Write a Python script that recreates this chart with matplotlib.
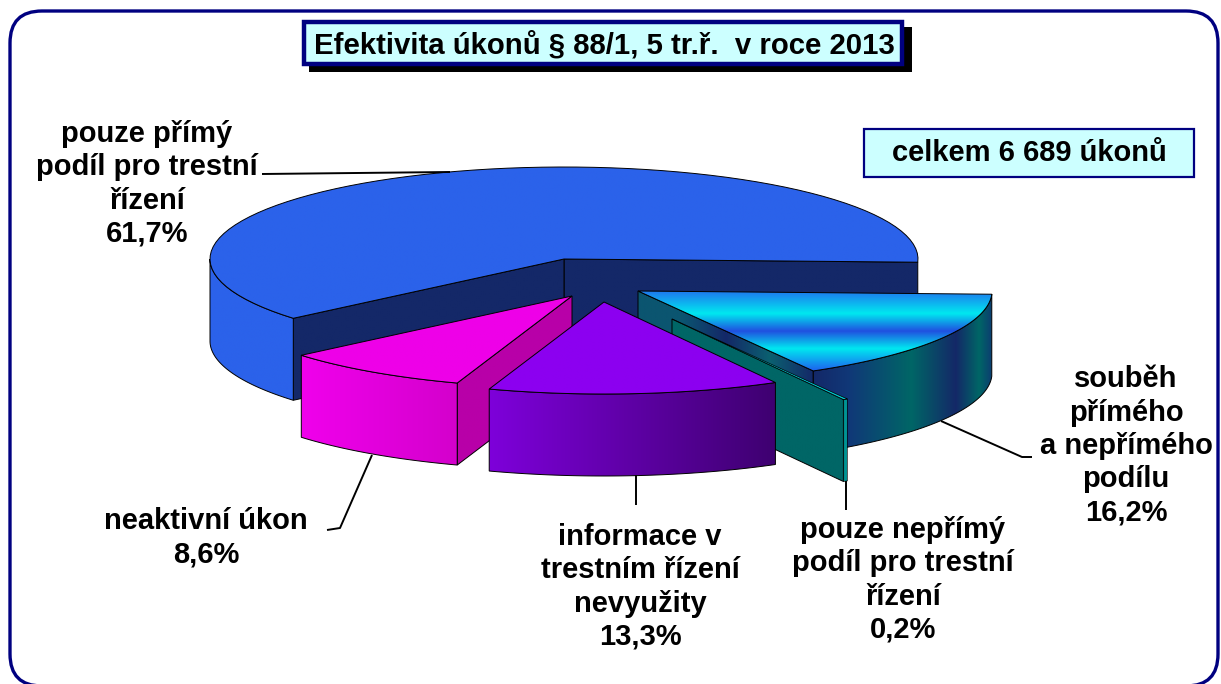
import numpy as np
import matplotlib
matplotlib.use("Agg")
import matplotlib.pyplot as plt
from matplotlib.colors import LinearSegmentedColormap
from matplotlib.patches import FancyBboxPatch, Polygon, Rectangle

# data
categories = ["pouze přímý\npodíl pro trestní\nřízení",
              "neaktivní úkon",
              "informace v\ntrestním řízení\nnevyužity",
              "pouze nepřímý\npodíl pro trestní\nřízení",
              "souběh\npřímého\na nepřímého\npodílu"]
shares = [61.7, 8.6, 13.3, 0.2, 16.2]
share_labels = ["61,7%", "8,6%", "13,3%", "0,2%", "16,2%"]
title = "Efektivita úkonů § 88/1, 5 tr.ř.  v roce 2013"
total_note = "celkem 6 689 úkonů"

plt.rcParams["font.family"] = ["Liberation Sans", "DejaVu Sans"]
plt.rcParams["font.weight"] = "bold"

W, H = 1221, 684
fig = plt.figure(figsize=(W / 100, H / 100), dpi=100)
ax = fig.add_axes([0, 0, 1, 1])

# pie geometry in pixels
CX, CY, RX, RY, DEPTH = 564, 259, 354, 92, 82
START = -2
explode = [(0, 0), (8, 37), (40, 43), (108, 60), (74, 32)]

edges = START + np.cumsum([0] + shares) * 3.6


def arc(t0, t1, dx=0, dy=0):
    t = np.radians(np.linspace(t0, t1, 80))
    return np.column_stack([CX + dx + RX * np.cos(t), CY + dy - RY * np.sin(t)])


def grad(verts, stops, vertical=False, z=2, edge="black", lw=0.7):
    cmap = LinearSegmentedColormap.from_list("g", stops)
    g = np.linspace(0, 1, 256)
    g = g[:, None] if vertical else g[None, :]
    x0, y0 = verts.min(axis=0)
    x1, y1 = verts.max(axis=0)
    im = ax.imshow(g, cmap=cmap, extent=(x0, x1, y1, y0), aspect="auto",
                   zorder=z, interpolation="bilinear")
    poly = Polygon(verts, closed=True, transform=ax.transData, fc="none", ec="none")
    ax.add_patch(poly)
    im.set_clip_path(poly)
    ax.add_patch(Polygon(verts, closed=True, fc="none", ec=edge, lw=lw, zorder=z))


def top_face(i):
    dx, dy = explode[i]
    return np.vstack([[CX + dx, CY + dy], arc(edges[i], edges[i + 1], dx, dy)])


def outer_wall(i, t0, t1):
    dx, dy = explode[i]
    a = arc(t0, t1, dx, dy)
    return np.vstack([a, a[::-1] + [0, DEPTH]])


def radial_wall(i, t):
    dx, dy = explode[i]
    a = np.array([CX + dx, CY + dy], dtype=float)
    b = arc(t, t, dx, dy)[0]
    return np.array([a, b, b + [0, DEPTH], a + [0, DEPTH]])


# frame
ax.add_patch(FancyBboxPatch((40, 41), 1148, 615,
                            boxstyle="round,pad=30,rounding_size=32",
                            fc="white", ec="#000080", lw=2.4, zorder=0))

# blue slice
navy = "#142868"
grad(radial_wall(0, edges[0]), [navy, navy], z=2)
grad(radial_wall(0, edges[1]), [navy, navy], z=2)
grad(outer_wall(0, 180, edges[1]), ["#2B62EA", "#2B62EA"], z=3)
grad(top_face(0), ["#2B62EA", "#2B62EA"], z=4)

# cyan/teal gradient slice
grad(radial_wall(4, edges[4]),
     ["#0B5570", "#0B5570", "#142868", "#0B6070", "#142868"], z=5)
grad(outer_wall(4, edges[4], edges[5]),
     [(0, "#142868"), (0.2, "#103878"), (0.55, "#006666"), (0.8, "#142868"),
      (0.93, "#006666"), (1, "#0B3E70")], z=6)
grad(top_face(4),
     [(0, "#1E78EE"), (0.28, "#00E8F0"), (0.5, "#2050E0"), (0.72, "#00E8F0"), (1, "#1E60EE")],
     vertical=True, z=7)

# thin slice
grad(radial_wall(3, edges[3]), ["#006666", "#006666"], z=8)
grad(outer_wall(3, edges[3], edges[4]), ["#008080", "#00A0A0"], z=9, lw=0.5)
grad(top_face(3), ["#00C8D0", "#00C8D0"], z=9, lw=0.5)

# magenta slice
grad(radial_wall(1, edges[2]), ["#B800A8", "#B800A8"], z=10)
grad(outer_wall(1, edges[1], edges[2]), ["#F000EC", "#D400CC"], z=11)
grad(top_face(1), ["#EE00E8", "#EE00E8"], z=12)

# purple slice
grad(outer_wall(2, edges[2], edges[3]), ["#7E00DA", "#3E0070"], z=13)
grad(top_face(2), ["#8C00F0", "#8C00F0"], z=14)

# leader lines
leaders = [[(262, 174), (450, 172)],
           [(327, 530), (340, 528), (372, 455)],
           [(636, 475), (636, 505)],
           [(846, 481), (846, 510)],
           [(941, 421), (1022, 457), (1032, 457)]]
for pts in leaders:
    xs, ys = zip(*pts)
    ax.plot(xs, ys, color="black", lw=1.4, zorder=15, solid_capstyle="butt")

# labels
label_pos = [(147, 184), (206, 538), (640, 587), (903, 580), (1126, 446)]
for i, (x, y) in enumerate(label_pos):
    ax.text(x, y, categories[i] + "\n" + share_labels[i], ha="center", va="center",
            fontsize=21, fontweight="bold", linespacing=1.24, color="black", zorder=16)

# title box with shadow
ax.add_patch(Rectangle((309, 27), 603, 45, fc="black", ec="none", zorder=17))
ax.add_patch(Rectangle((303.5, 21.5), 598, 42, fc="#CCFFFF", ec="#000080", lw=3.2, zorder=18))
ax.text(604, 45, title, ha="center", va="center", fontsize=21.2, fontweight="bold", zorder=19)

# note box
ax.add_patch(Rectangle((863.5, 128.5), 330, 48, fc="#CCFFFF", ec="#000080", lw=1.6, zorder=17))
ax.text(1029, 153, total_note, ha="center", va="center", fontsize=21, fontweight="bold", zorder=19)

ax.set_xlim(0, W)
ax.set_ylim(H, 0)
ax.axis("off")

fig.savefig("out.png", dpi=100)
